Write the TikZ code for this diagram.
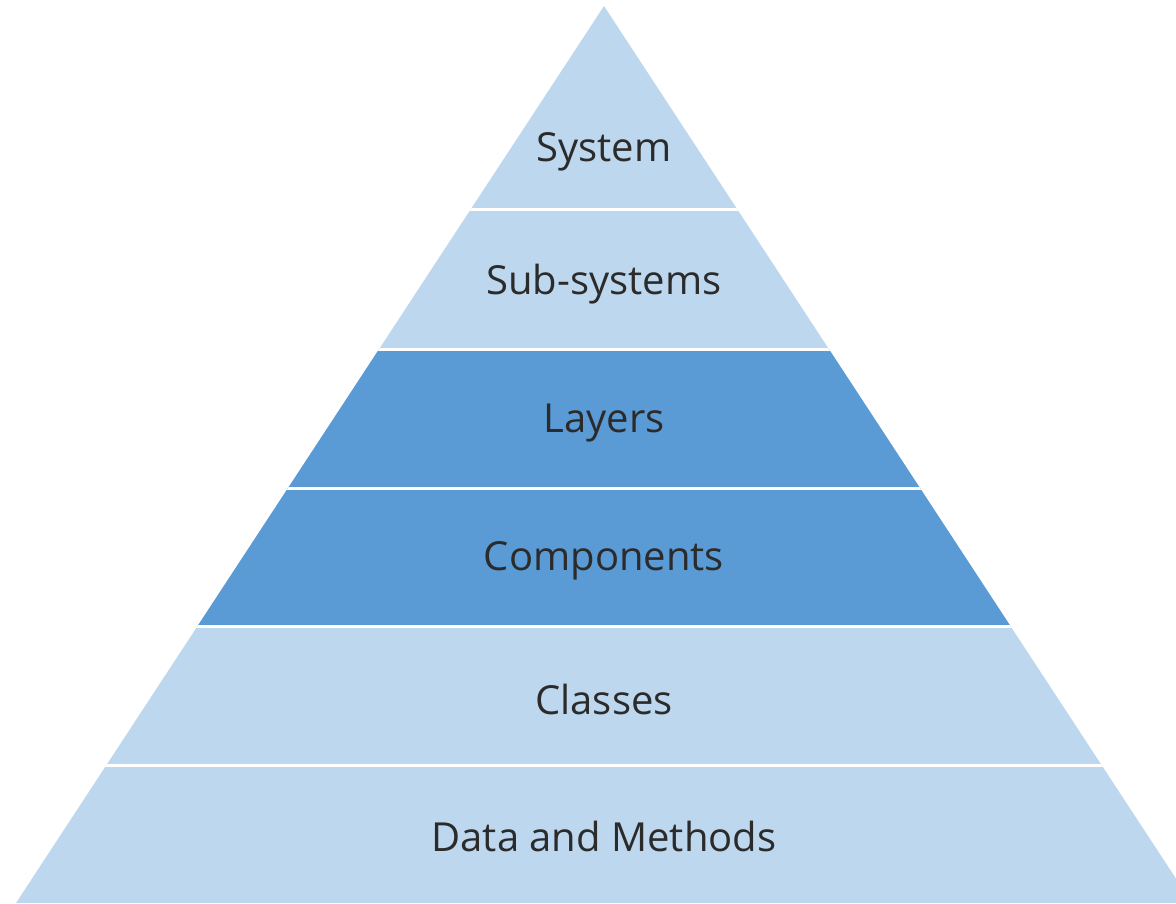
\documentclass[tikz,border=0pt]{standalone}
\usepackage{fontspec}
\setmainfont{Open Sans}
\definecolor{lightband}{HTML}{BDD7EE}
\definecolor{darkband}{HTML}{5B9BD5}
\definecolor{labeltext}{HTML}{2B2B2B}
\begin{document}
\begin{tikzpicture}[x=1pt,y=-1pt,
  bandlabel/.style={text=labeltext,font=\fontsize{40}{46}\selectfont,inner sep=0pt,anchor=center},
  sep/.style={draw=white,line width=3pt}]
\useasboundingbox (0,0) rectangle (1176,904);
\coordinate (apex) at (604,6);
\coordinate (bl) at (16,903);
\coordinate (br) at (1192,903);
\begin{scope}
  \clip (0,0) rectangle (1176,904);
  \clip (apex) -- (br) -- (bl) -- cycle;
  \fill[lightband] (0,0) rectangle (1200,904);
  \fill[darkband] (0,349) rectangle (1200,626);
  \foreach \yy in {210,349,488,626,765}{
    \draw[sep] (0,\yy) -- (1200,\yy);
  }
\end{scope}
\node[bandlabel] (system) at (604,152) {System};
\node[bandlabel] (subsystems) at (604,284) {Sub-systems};
\node[bandlabel] (layers) at (604,423) {Layers};
\node[bandlabel] (components) at (604,561) {Components};
\node[bandlabel] (classes) at (604,699) {Classes};
\node[bandlabel] (data) at (604,836) {Data and Methods};
\end{tikzpicture}
\end{document}
